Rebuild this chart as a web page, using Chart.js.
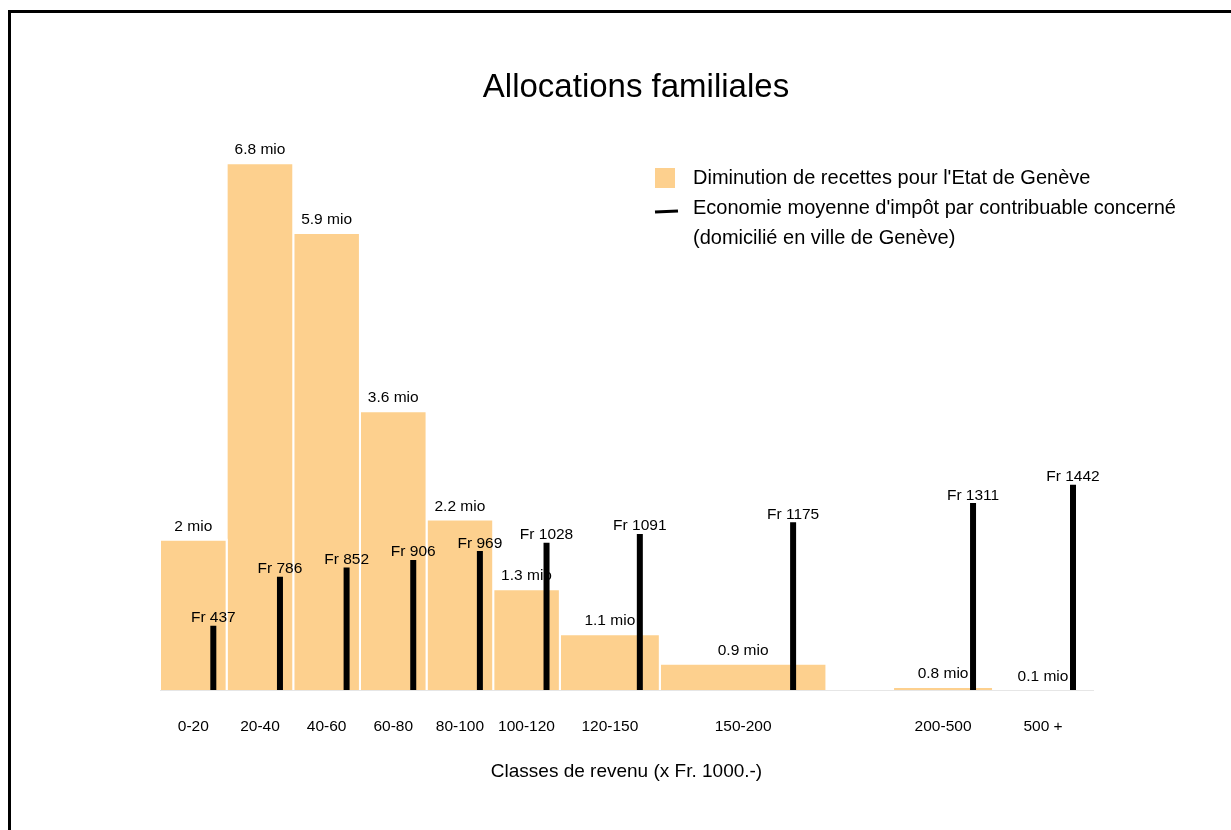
<!DOCTYPE html>
<html>
<head>
<meta charset="utf-8">
<script src="https://cdn.jsdelivr.net/npm/chart.js@4.4.1/dist/chart.umd.min.js"></script>
<style>
  body { margin: 0; width: 1231px; height: 830px; overflow: hidden; background: #fff; position: relative;
         font-family: "Liberation Sans", Arial, sans-serif; color: #000; }
  #frame { position: absolute; left: 8px; top: 10px; width: 1400px; height: 1000px; border: 3px solid #000; }
  #chart { position: absolute; left: 0; top: 0; }
  #title { position: absolute; left: 0; width: 1272px; top: 69px; text-align: center; font-size: 33px; line-height: 33px; }
  #legend { position: absolute; left: 655px; top: 162px; font-size: 20px; line-height: 30px; }
  #legend .box { position: absolute; left: 0; top: 6px; width: 20px; height: 20px; background: #fdd08e; }
  #legend .dash { position: absolute; left: 0; top: 48px; width: 23px; height: 3px; background: #000; transform: rotate(-3deg); }
  #legend .txt { margin-left: 38px; white-space: nowrap; }
</style>
</head>
<body>
<div id="frame"></div>
<canvas id="chart" width="1231" height="830"></canvas>
<div id="title">Allocations familiales</div>
<div id="legend">
  <div class="box"></div>
  <div class="dash"></div>
  <div class="txt">Diminution de recettes pour l'Etat de Genève<br>Economie moyenne d'impôt par contribuable concerné<br>(domicilié en ville de Genève)</div>
</div>
<script>
// classes de revenu (x Fr. 1000.-)
const classes = ['0-20', '20-40', '40-60', '60-80', '80-100', '100-120', '120-150', '150-200', '200-500', '500 +'];
// bounds on the x axis; the last two classes sit on a compressed stretch after a gap
const binFrom = [0, 20, 40, 60, 80, 100, 120, 150, 220, 250];
const binTo   = [20, 40, 60, 80, 100, 120, 150, 200, 250, 280];
// diminution de recettes (mio), as labelled
const recettesMio = [2, 6.8, 5.9, 3.6, 2.2, 1.3, 1.1, 0.9, 0.8, 0.1];
// bar height as drawn (mio per 20'000 Fr band)
const barHeight = [1.94, 6.8, 5.9, 3.6, 2.2, 1.3, 0.72, 0.34, 0.04, 0.005];
// economie moyenne d'impot par contribuable (Fr)
const economieFr = [437, 786, 852, 906, 969, 1028, 1091, 1175, 1311, 1442];

const orange = '#fdd08e';
const labelFont = '15.5px "Liberation Sans", Arial, sans-serif';

const datasets = [];
classes.forEach((c, i) => {
  datasets.push({
    type: 'line',
    barIndex: i,
    data: [
      { x: binFrom[i], y: 0 },
      { x: binFrom[i], y: barHeight[i] },
      { x: binTo[i], y: barHeight[i] },
      { x: binTo[i], y: 0 }
    ],
    fill: 'origin',
    backgroundColor: orange,
    borderColor: '#fff',
    borderWidth: 2,
    pointRadius: 0,
    tension: 0,
    yAxisID: 'y',
    order: 1
  });
});

// tax lines: one vertical stroke per class, at 80% of the class width
const taxX = classes.map((c, i) => binFrom[i] + 0.8 * (binTo[i] - binFrom[i]));
const taxPoints = [];
taxX.forEach((x, i) => {
  taxPoints.push({ x: x, y: 0 }, { x: x, y: economieFr[i] }, { x: x, y: null });
});
datasets.push({
  type: 'line',
  isTax: true,
  data: taxPoints,
  borderColor: '#000',
  borderWidth: 6,
  borderCapStyle: 'square',
  spanGaps: false,
  pointRadius: 0,
  fill: false,
  yAxisID: 'y2',
  order: 0
});

const labelsPlugin = {
  id: 'valueLabels',
  afterDatasetDraw(chart, args) {
    const ds = chart.data.datasets[args.index];
    if (ds.barIndex === undefined) return;
    const i = ds.barIndex;
    const ctx = chart.ctx;
    const x = chart.scales.x.getPixelForValue((binFrom[i] + binTo[i]) / 2);
    const y = chart.scales.y.getPixelForValue(barHeight[i]) - 9;
    ctx.save();
    ctx.font = labelFont;
    ctx.fillStyle = '#000';
    ctx.textAlign = 'center';
    ctx.textBaseline = 'alphabetic';
    ctx.fillText(recettesMio[i] + ' mio', x, y);
    ctx.restore();
  },
  afterDatasetsDraw(chart) {
    const ctx = chart.ctx;
    ctx.save();
    ctx.font = labelFont;
    ctx.fillStyle = '#000';
    ctx.textAlign = 'center';
    ctx.textBaseline = 'alphabetic';
    taxX.forEach((v, i) => {
      const x = chart.scales.x.getPixelForValue(v);
      const y = chart.scales.y2.getPixelForValue(economieFr[i]) - 6.5;
      ctx.fillText('Fr ' + economieFr[i], x, y);
    });
    ctx.restore();
  }
};

new Chart(document.getElementById('chart'), {
  type: 'line',
  data: { datasets: datasets },
  plugins: [labelsPlugin],
  options: {
    responsive: false,
    animation: false,
    events: [],
    layout: { padding: { top: 150, left: 160, right: 138, bottom: 0 } },
    plugins: { legend: { display: false }, tooltip: { enabled: false } },
    scales: {
      x: {
        type: 'linear',
        min: 0,
        max: 280,
        grid: { display: false, drawTicks: false },
        border: { display: true, color: '#e6e6e6', width: 1 },
        afterBuildTicks: s => { s.ticks = classes.map((c, i) => ({ value: (binFrom[i] + binTo[i]) / 2 })); },
        afterFit: s => { s.height = 140; },
        ticks: {
          autoSkip: false,
          maxRotation: 0,
          padding: 27,
          color: '#000',
          font: { family: '"Liberation Sans", Arial, sans-serif', size: 15.5 },
          callback: (v, i) => classes[i]
        },
        title: {
          display: true,
          text: 'Classes de revenu (x Fr. 1000.-)',
          color: '#000',
          font: { family: '"Liberation Sans", Arial, sans-serif', size: 19 },
          padding: { top: 0, bottom: 47 }
        }
      },
      y: { display: false, min: 0, max: 6.971 },
      y2: { display: false, min: 0, max: 3849 }
    }
  }
});
</script>
</body>
</html>
